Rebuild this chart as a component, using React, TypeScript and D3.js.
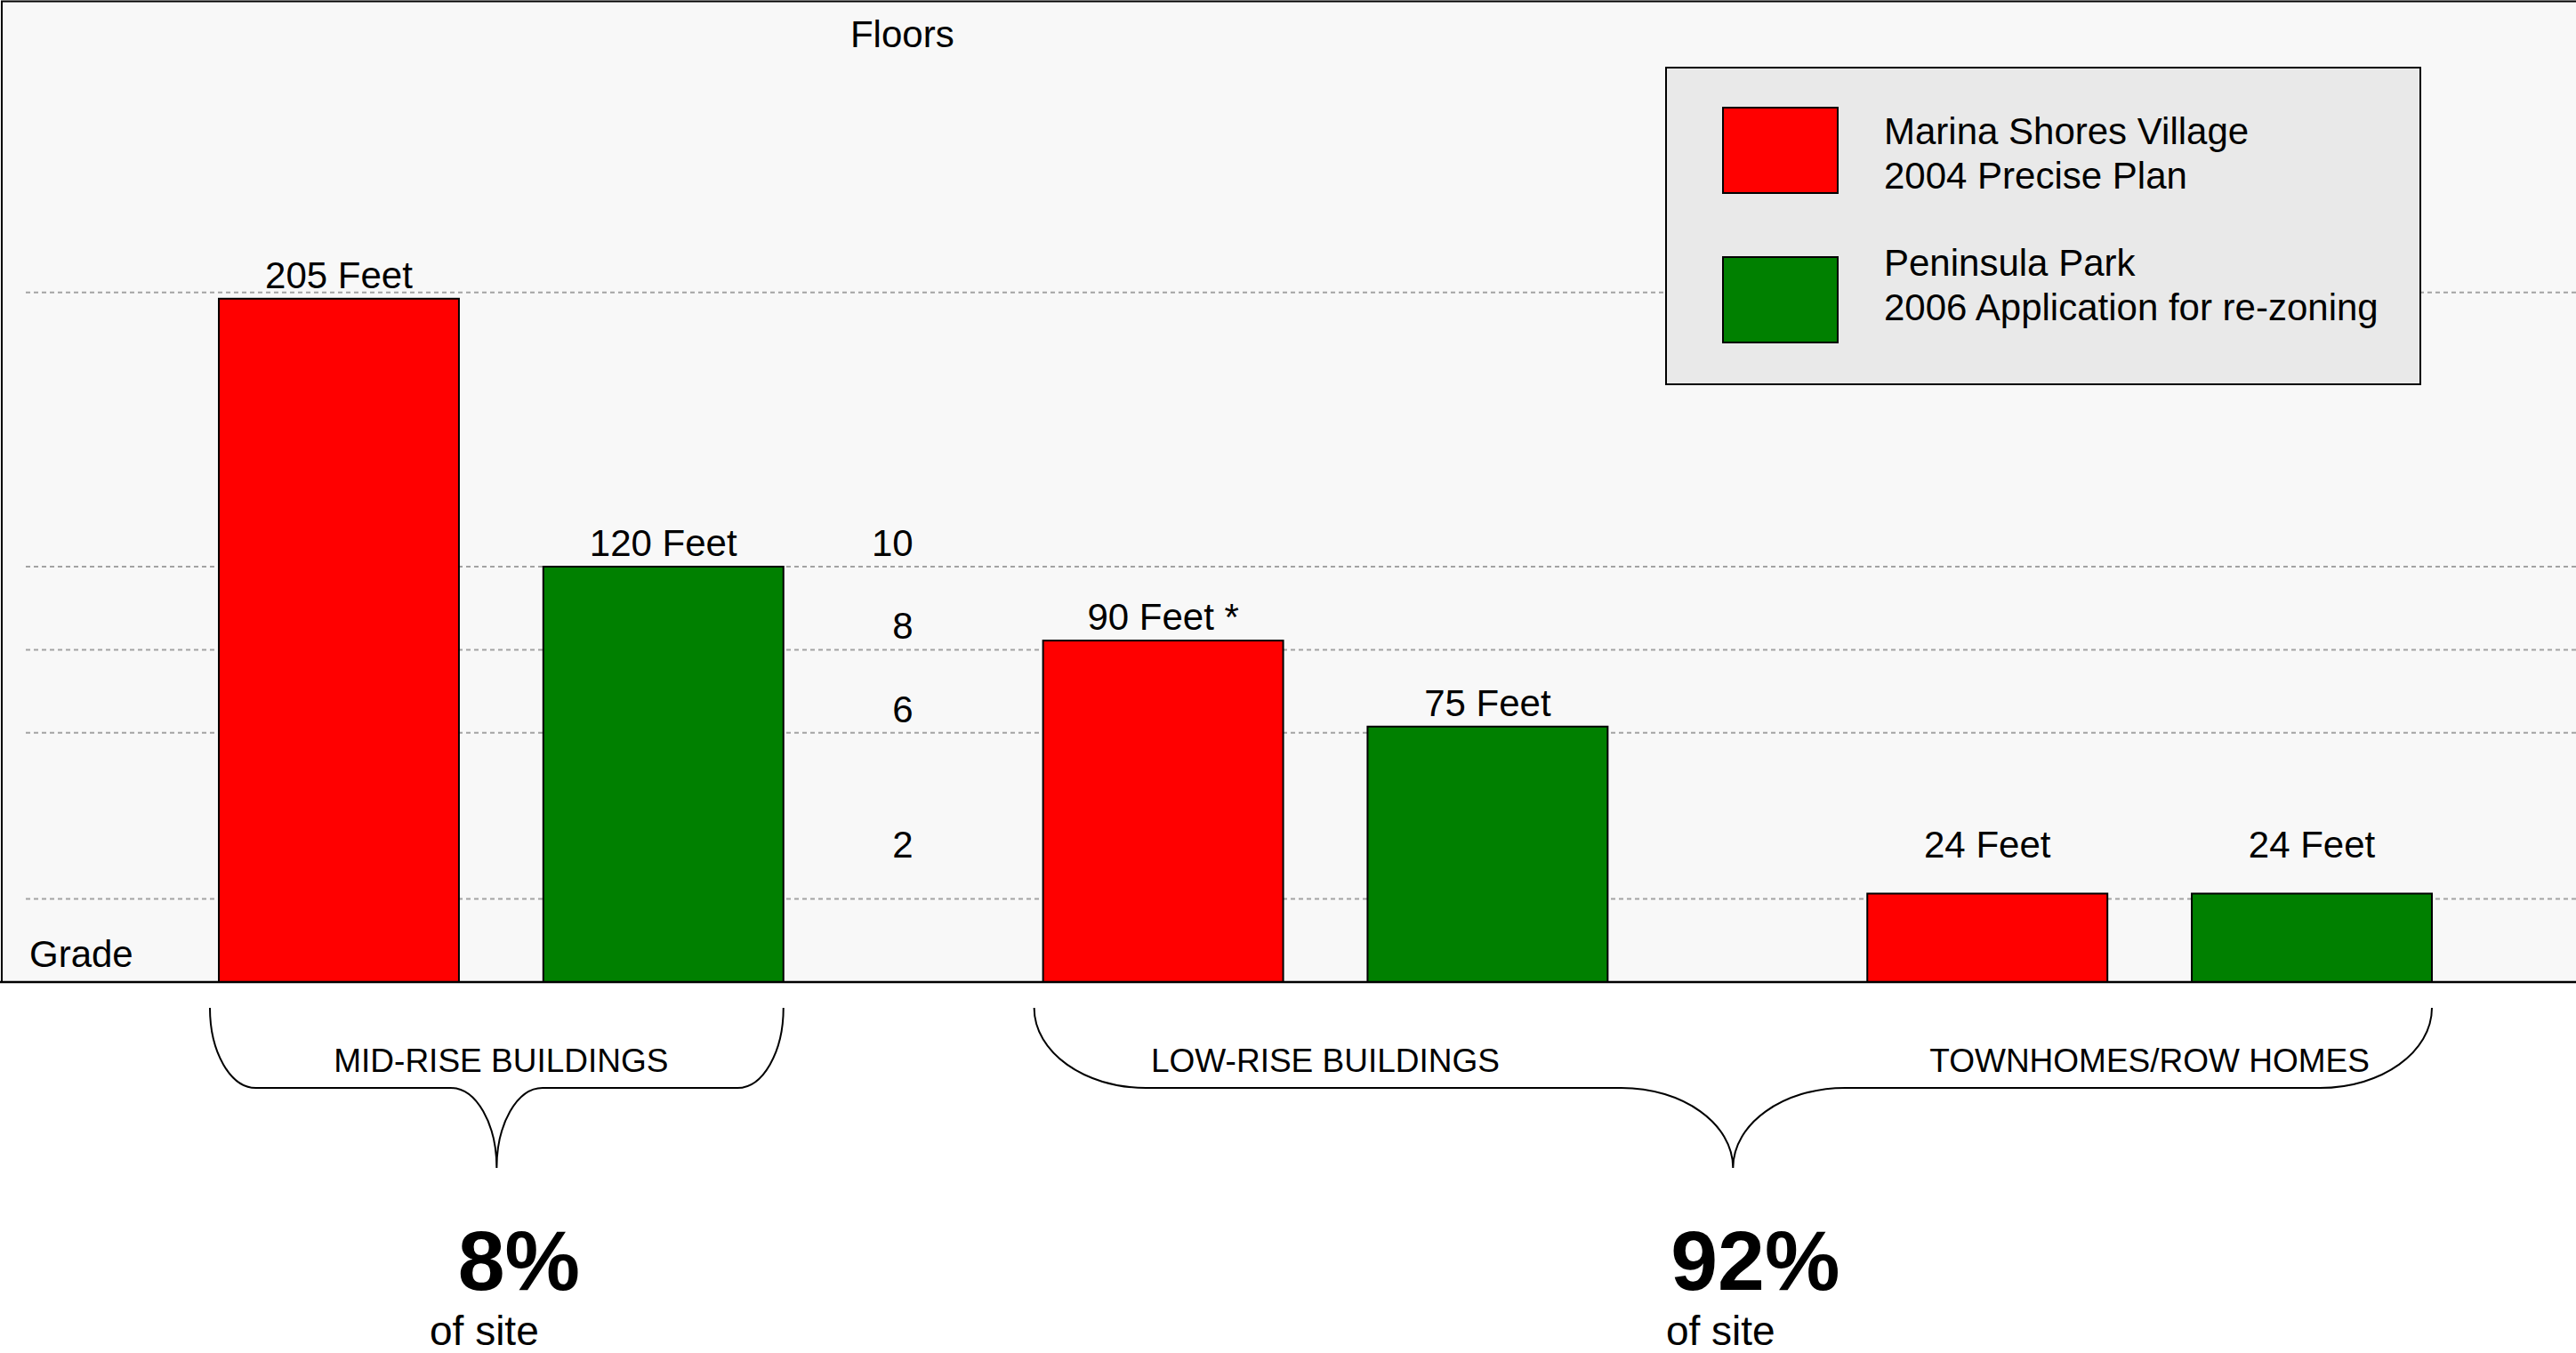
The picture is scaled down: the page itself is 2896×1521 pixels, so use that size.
import React, { useEffect } from "react";
import * as d3 from "d3";

// ---------- data ----------
const groups = ["MID-RISE BUILDINGS", "LOW-RISE BUILDINGS", "TOWNHOMES/ROW HOMES"];
const seriesKeys = ["marina", "peninsula"];
const seriesColors = ["#ff0000", "#008000"];
const legendLines = [
  ["Marina Shores Village", "2004 Precise Plan"],
  ["Peninsula Park", "2006 Application for re-zoning"],
];
// bar heights measured on the "Floors" axis
const marinaFloors = [16.45, 8.22, 2.13];
const peninsulaFloors = [10, 6.15, 2.13];
const marinaLabels = ["205 Feet", "90 Feet *", "24 Feet"];
const peninsulaLabels = ["120 Feet", "75 Feet", "24 Feet"];
const floorTicks = [10, 8, 6, 2];
const gridFloors = [2, 6, 8, 10, 16.6];
const shareLabels = ["8%", "92%"];
const shareGroups = [[0], [1, 2]];

// ---------- layout ----------
const W = 2896;
const H = 1521;
const baseY = 1104;
const FONT = "'Liberation Sans', Arial, Helvetica, sans-serif";

export default function App() {
  useEffect(() => {
    document.body.style.margin = "0";
    document.body.style.overflow = "hidden";
  }, []);

  const y = d3.scaleLinear().domain([0, 10]).range([baseY, 637]);
  const x0 = d3.scaleBand<string>().domain(groups).range([246, 2734]).paddingInner(0.315).paddingOuter(0);
  const x1 = d3.scaleBand<string>().domain(seriesKeys).range([0, x0.bandwidth()]).paddingInner(0.26);

  const rowFloor = y(3); // labels never sit lower than this row
  const labelY = (v: number) => Math.min(y(v) - 12, rowFloor);

  const bars = groups.flatMap((g, gi) => [
    { g, s: seriesKeys[0], v: marinaFloors[gi], label: marinaLabels[gi], color: seriesColors[0] },
    { g, s: seriesKeys[1], v: peninsulaFloors[gi], label: peninsulaLabels[gi], color: seriesColors[1] },
  ]);

  // column of floor labels sits in the gap between the first two groups
  const colX = ((x0(groups[0]) as number) + x0.bandwidth() + (x0(groups[1]) as number)) / 2;

  const braceTop = 1133;
  const braceMid = 1223;
  const braceTip = 1313;
  const k = 0.5523;
  const bracePath = (a: number, b: number) => {
    const rx = (b - a) * 0.08;
    const ry = braceMid - braceTop;
    const m = (a + b) / 2;
    return [
      `M${a},${braceTop}`,
      `C${a},${braceTop + k * ry} ${a + rx - k * rx},${braceMid} ${a + rx},${braceMid}`,
      `L${m - rx},${braceMid}`,
      `C${m - rx + k * rx},${braceMid} ${m},${braceTip - k * ry} ${m},${braceTip}`,
      `C${m},${braceTip - k * ry} ${m + rx - k * rx},${braceMid} ${m + rx},${braceMid}`,
      `L${b - rx},${braceMid}`,
      `C${b - rx + k * rx},${braceMid} ${b},${braceTop + k * ry} ${b},${braceTop}`,
    ].join(" ");
  };

  const legend = { x: 1873, y: 76, w: 848, h: 356 };

  return (
    <svg
      width={W}
      height={H}
      style={{ position: "absolute", left: 0, top: 0, display: "block", background: "#ffffff" }}
      fontFamily={FONT}
    >
      <rect x={0} y={0} width={W} height={H} fill="#ffffff" />
      <rect x={0} y={0} width={W} height={baseY} fill="#f8f8f8" />
      <path d={`M2,${baseY} V1.5 H${W}`} fill="none" stroke="#000" strokeWidth={2} />

      {/* grid lines */}
      {gridFloors.map((f) => (
        <line
          key={f}
          x1={29}
          x2={W}
          y1={y(f)}
          y2={y(f)}
          stroke="#a3a3a3"
          strokeWidth={2}
          strokeDasharray="5,4"
        />
      ))}

      {/* floor labels */}
      <text x={colX + 46} y={53} fontSize={42} textAnchor="end" fill="#000">
        Floors
      </text>
      {floorTicks.map((t) => (
        <text key={t} x={colX} y={labelY(t)} fontSize={42} textAnchor="end" fill="#000">
          {t}
        </text>
      ))}
      <text x={33} y={1087} fontSize={42} fill="#000">
        Grade
      </text>

      {/* bars */}
      {bars.map((b, i) => {
        const bx = (x0(b.g) as number) + (x1(b.s) as number);
        return (
          <g key={i}>
            <rect
              x={bx}
              y={y(b.v)}
              width={x1.bandwidth()}
              height={baseY - y(b.v)}
              fill={b.color}
              stroke="#000"
              strokeWidth={2}
            />
            <text x={bx + x1.bandwidth() / 2} y={labelY(b.v)} fontSize={42} textAnchor="middle" fill="#000">
              {b.label}
            </text>
          </g>
        );
      })}

      {/* baseline */}
      <line x1={0} x2={W} y1={baseY} y2={baseY} stroke="#000" strokeWidth={2.5} />

      {/* legend */}
      <rect x={legend.x} y={legend.y} width={legend.w} height={legend.h} fill="#e9e9e9" stroke="#000" strokeWidth={2} />
      {legendLines.map((lines, i) => (
        <g key={i}>
          <rect
            x={legend.x + 64}
            y={legend.y + 45 + i * 168}
            width={129}
            height={96}
            fill={seriesColors[i]}
            stroke="#000"
            strokeWidth={2}
          />
          {lines.map((ln, j) => (
            <text key={j} x={legend.x + 245} y={legend.y + 86 + i * 148 + j * 50} fontSize={42} fill="#000">
              {ln}
            </text>
          ))}
        </g>
      ))}

      {/* group labels */}
      {groups.map((g) => (
        <text
          key={g}
          x={(x0(g) as number) + x0.bandwidth() / 2}
          y={1205}
          fontSize={37}
          textAnchor="middle"
          fill="#000"
        >
          {g}
        </text>
      ))}

      {/* braces and site shares */}
      {shareGroups.map((idx, i) => {
        const a = (x0(groups[idx[0]]) as number) - 10;
        const b = (x0(groups[idx[idx.length - 1]]) as number) + x0.bandwidth();
        const m = (a + b) / 2;
        return (
          <g key={i}>
            <path d={bracePath(a, b)} fill="none" stroke="#000" strokeWidth={2} />
            <text x={m + 25} y={1450} fontSize={95} fontWeight="bold" textAnchor="middle" fill="#000">
              {shareLabels[i]}
            </text>
            <text x={m - 14} y={1512} fontSize={46} textAnchor="middle" fill="#000">
              of site
            </text>
          </g>
        );
      })}
    </svg>
  );
}
